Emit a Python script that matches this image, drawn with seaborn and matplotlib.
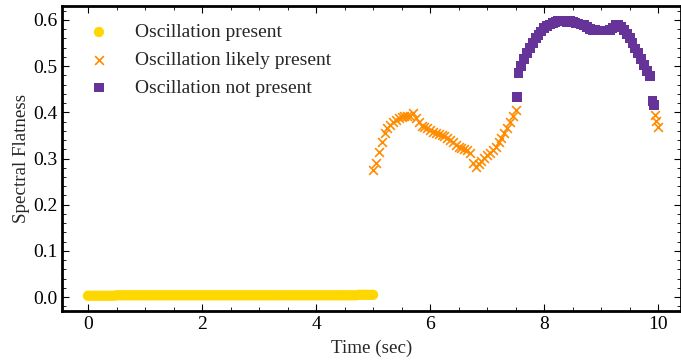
import numpy as np
import pandas as pd
import matplotlib
matplotlib.use("Agg")
import matplotlib.pyplot as plt
import seaborn as sns
from matplotlib.ticker import AutoMinorLocator

# ---- data ----
t_present = [round(0.05 * i, 2) for i in range(101)]
v_present = [0.003, 0.003, 0.003, 0.003, 0.003, 0.003, 0.003, 0.003, 0.003, 0.003,
             0.004, 0.004, 0.004, 0.004, 0.004, 0.004, 0.004, 0.004, 0.004, 0.004,
             0.004, 0.004, 0.004, 0.004, 0.004, 0.004, 0.004, 0.004, 0.004, 0.004,
             0.004, 0.004, 0.004, 0.004, 0.004, 0.004, 0.004, 0.004, 0.004, 0.004,
             0.004, 0.004, 0.004, 0.004, 0.004, 0.004, 0.004, 0.004, 0.004, 0.004,
             0.004, 0.004, 0.004, 0.004, 0.004, 0.004, 0.004, 0.004, 0.004, 0.004,
             0.004, 0.004, 0.004, 0.004, 0.004, 0.004, 0.004, 0.004, 0.004, 0.004,
             0.004, 0.004, 0.004, 0.004, 0.004, 0.004, 0.004, 0.004, 0.004, 0.004,
             0.004, 0.004, 0.004, 0.004, 0.004, 0.004, 0.004, 0.004, 0.004, 0.004,
             0.004, 0.004, 0.004, 0.004, 0.004, 0.005, 0.005, 0.005, 0.005, 0.005,
             0.005]

t_likely = [5.00, 5.05, 5.10, 5.15, 5.20, 5.25, 5.30, 5.35, 5.40, 5.45,
            5.50, 5.55, 5.60, 5.65, 5.70, 5.75, 5.80, 5.85, 5.90, 5.95,
            6.00, 6.05, 6.10, 6.15, 6.20, 6.25, 6.30, 6.35, 6.40, 6.45,
            6.50, 6.55, 6.60, 6.65, 6.70, 6.75, 6.80, 6.85, 6.90, 6.95,
            7.00, 7.05, 7.10, 7.15, 7.20, 7.25, 7.30, 7.35, 7.40, 7.45,
            7.50, 9.94, 9.97, 9.99]
v_likely = [0.275, 0.290, 0.315, 0.335, 0.355, 0.365, 0.372, 0.378, 0.383, 0.387,
            0.390, 0.391, 0.391, 0.392, 0.398, 0.388, 0.378, 0.370, 0.368, 0.365,
            0.362, 0.358, 0.355, 0.352, 0.350, 0.348, 0.345, 0.340, 0.335, 0.330,
            0.325, 0.322, 0.320, 0.318, 0.312, 0.290, 0.282, 0.288, 0.295, 0.302,
            0.308, 0.312, 0.318, 0.325, 0.335, 0.345, 0.355, 0.365, 0.378, 0.392,
            0.405, 0.395, 0.382, 0.368]

t_not = [7.53, 7.55, 7.60, 7.65, 7.70, 7.75, 7.80, 7.85, 7.90, 7.95,
         8.00, 8.05, 8.10, 8.15, 8.20, 8.25, 8.30, 8.35, 8.40, 8.45,
         8.50, 8.55, 8.60, 8.65, 8.70, 8.75, 8.80, 8.85, 8.90, 8.95,
         9.00, 9.05, 9.10, 9.15, 9.20, 9.25, 9.30, 9.35, 9.40, 9.45,
         9.50, 9.55, 9.60, 9.65, 9.70, 9.75, 9.80, 9.85, 9.90, 9.92]
v_not = [0.433, 0.485, 0.500, 0.515, 0.528, 0.540, 0.550, 0.560, 0.567, 0.575,
         0.582, 0.586, 0.590, 0.593, 0.596, 0.598, 0.598, 0.597, 0.596, 0.597,
         0.596, 0.594, 0.592, 0.590, 0.588, 0.585, 0.580, 0.578, 0.578, 0.577,
         0.577, 0.577, 0.577, 0.578, 0.582, 0.588, 0.588, 0.585, 0.578, 0.570,
         0.560, 0.550, 0.538, 0.528, 0.515, 0.503, 0.490, 0.478, 0.425, 0.415]

labels = ["Oscillation present", "Oscillation likely present", "Oscillation not present"]
colors = ["#FFD700", "#FF8C00", "#663399"]

sns.set_style("ticks")
plt.rcParams["font.family"] = ["Liberation Serif", "DejaVu Serif"]

fig = plt.figure(figsize=(6.81, 3.62), dpi=100)
ax = fig.add_axes([62 / 681, 1 - 311 / 362, (681 - 62) / 681, (311 - 6) / 362])

sns.scatterplot(x=t_present, y=v_present, ax=ax, marker="o", s=55, color=colors[0],
                edgecolor="none", linewidth=0, label=labels[0])
sns.scatterplot(x=t_likely, y=v_likely, ax=ax, marker="x", s=40, color=colors[1],
                linewidth=1.2, label=labels[1])
sns.scatterplot(x=t_not, y=v_not, ax=ax, marker="s", s=50, color=colors[2],
                edgecolor="none", linewidth=0, label=labels[2])

ax.set_xlim(-0.456, 10.40)
ax.set_ylim(-0.03, 0.63)
ax.set_xticks([0, 2, 4, 6, 8, 10])
ax.set_yticks([0.0, 0.1, 0.2, 0.3, 0.4, 0.5, 0.6])
ax.set_yticklabels(["0.0", "0.1", "0.2", "0.3", "0.4", "0.5", "0.6"])
ax.xaxis.set_minor_locator(AutoMinorLocator(4))
ax.yaxis.set_minor_locator(AutoMinorLocator(5))
ax.tick_params(which="both", direction="in", top=True, right=True, labelsize=14, colors="black")
ax.tick_params(which="major", length=5, width=0.8)
ax.tick_params(which="minor", length=3, width=0.6)
for sp in ax.spines.values():
    sp.set_linewidth(2)
    sp.set_color("black")
ax.set_xlabel("Time (sec)", fontsize=13.7, labelpad=5)
ax.set_ylabel("Spectral Flatness", fontsize=13.7, labelpad=2)

leg = ax.legend(loc="upper left", frameon=False, fontsize=14, labelspacing=0.52,
                handletextpad=0.85, borderaxespad=0.5, markerscale=1.0)

fig.savefig("out.png", dpi=100)
